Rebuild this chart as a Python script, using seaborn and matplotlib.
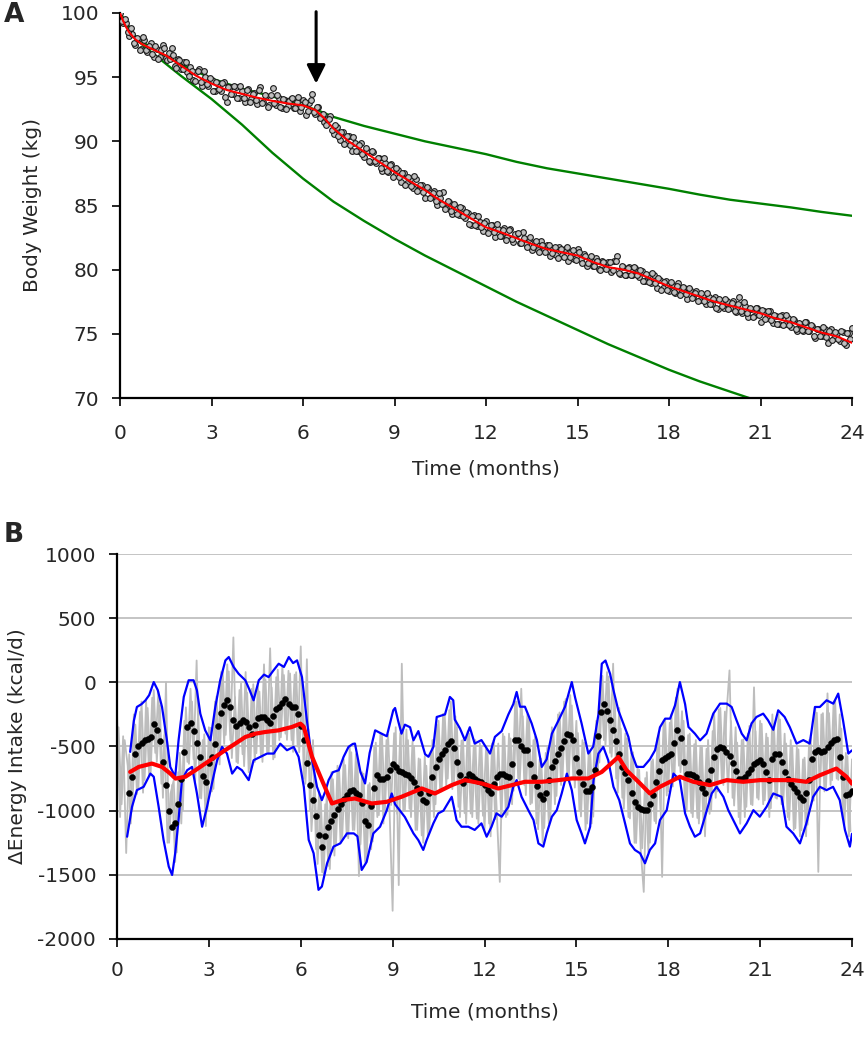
import numpy as np
import pandas as pd
import matplotlib
matplotlib.use("Agg")
import matplotlib.pyplot as plt
import seaborn as sns

# ---------------- Panel A data ----------------
month_ticks = [0, 3, 6, 9, 12, 15, 18, 21, 24]
weight_ticks = [70, 75, 80, 85, 90, 95, 100]

# observed body weight, readings at t = 0.0, 0.1, ... 24.0 months
bw_obs = [
    100.0, 99.2, 99.2, 98.2, 98.4, 97.5, 98.0, 97.2, 97.9, 97.0,
    97.7, 96.6, 97.2, 96.6, 97.5, 96.5, 96.9, 97.3, 95.9, 96.4,
    95.6, 96.2, 95.4, 95.8, 94.8, 95.4, 95.6, 94.3, 95.0, 94.35,
    94.8, 93.9, 94.5, 93.9, 94.6, 93.1, 94.25, 93.7, 94.2, 93.35,
    93.9, 93.05, 94.1, 93.3, 93.75, 92.9, 94.25, 93.1, 93.55, 92.8,
    94.15, 92.8, 93.35, 92.6, 93.2, 92.75, 93.3, 92.6, 93.05, 92.35,
    93.2, 92.05, 93.0, 93.7, 92.1, 92.7, 91.9, 91.5, 91.75, 92.0,
    90.6, 91.1, 90.1, 90.7, 89.9, 90.4, 89.25, 89.9, 89.25, 89.9,
    88.8, 89.25, 88.4, 89.15, 88.3, 88.7, 87.65, 88.3, 87.6, 88.25,
    87.4, 87.75, 86.8, 87.55, 86.75, 87.1, 86.35, 87.1, 86.25, 86.6,
    85.6, 86.35, 85.7, 86.1, 85.05, 85.6, 86.05, 84.8, 85.25, 84.3,
    84.9, 84.25, 84.8, 84.05, 84.4, 83.5, 84.25, 83.4, 83.75, 83.0,
    83.8, 83.0, 83.45, 82.55, 83.2, 82.6, 83.25, 82.55, 83.15, 82.15,
    82.75, 82.1, 82.9, 82.0, 82.4, 81.5, 82.15, 81.55, 82.2, 81.5,
    81.9, 81.05, 81.7, 81.15, 81.8, 81.15, 81.6, 80.65, 81.4, 80.85,
    81.6, 80.8, 81.2, 80.3, 80.9, 80.3, 80.9, 80.05, 80.65, 80.1,
    80.6, 79.85, 80.7, 81.05, 79.7, 80.2, 79.55, 80.2, 79.6, 80.15,
    79.4, 79.9, 79.1, 79.6, 79.0, 79.6, 78.6, 79.2, 78.6, 79.1,
    78.3, 78.8, 78.2, 78.95, 78.2, 78.6, 77.75, 78.45, 77.85, 78.35,
    77.6, 78.0, 77.3, 77.9, 77.35, 77.9, 76.9, 77.55, 77.0, 77.55,
    77.0, 77.55, 76.7, 77.9, 76.65, 77.2, 76.35, 76.95, 76.4, 77.05,
    75.9, 76.8, 76.2, 76.75, 75.85, 76.4, 75.8, 76.45, 75.75, 76.2,
    75.5, 76.1, 75.2, 75.8, 75.25, 75.9, 75.2, 75.6, 74.65, 75.35,
    74.8, 75.35, 74.3, 75.35, 74.7, 75.1, 74.45, 75.15, 74.15, 75.05,
    75.45,
]
# observed body weight, readings at t = 0.05, 0.15, ... 23.95 months
bw_obs_mid = [
    99.4, 99.55, 98.5, 98.85, 97.65, 98.05, 97.15, 98.1, 97.1, 97.4,
    96.8, 97.4, 96.4, 97.1, 97.3, 96.3, 96.4, 96.7, 95.7, 96.3,
    95.6, 96.2, 95.1, 95.5, 94.7, 95.45, 94.65, 95.45, 94.5, 94.9,
    93.95, 94.65, 94.05, 94.55, 93.45, 94.2, 93.65, 94.35, 93.4, 94.35,
    93.4, 94.0, 93.05, 93.7, 93.25, 94.0, 92.95, 93.6, 92.65, 93.6,
    92.95, 93.6, 92.65, 93.3, 92.5, 93.15, 93.4, 92.6, 93.45, 92.65,
    93.1, 92.35, 93.25, 92.3, 92.7, 91.8, 92.1, 91.3, 91.75, 90.85,
    91.3, 90.4, 90.7, 89.8, 90.4, 89.75, 90.3, 89.25, 89.7, 89.0,
    89.45, 88.5, 89.25, 88.5, 88.7, 87.95, 88.7, 87.7, 88.15, 87.2,
    87.95, 87.2, 87.55, 86.6, 87.2, 86.55, 87.3, 86.15, 86.6, 86.05,
    86.45, 85.6, 86.0, 85.35, 86.0, 85.15, 84.7, 85.35, 84.6, 85.15,
    84.35, 84.9, 84.15, 84.5, 83.55, 84.15, 83.5, 84.15, 83.3, 83.65,
    82.85, 83.5, 82.9, 83.55, 82.65, 83.1, 82.3, 83.1, 82.4, 82.8,
    82.85, 82.05, 82.45, 81.75, 82.55, 81.8, 82.2, 81.35, 81.95, 81.35,
    81.95, 81.3, 81.8, 80.9, 81.6, 81.0, 81.8, 81.0, 81.5, 80.75,
    81.35, 80.55, 81.05, 80.55, 81.05, 80.25, 80.7, 80.0, 80.6, 80.05,
    80.6, 79.95, 80.7, 79.75, 80.3, 79.6, 80.15, 79.55, 80.2, 79.55,
    79.95, 79.15, 79.65, 79.05, 79.75, 78.95, 79.35, 78.45, 79.05, 78.45,
    79.05, 78.25, 78.7, 78.05, 78.65, 78.1, 78.6, 77.8, 78.2, 77.55,
    78.15, 77.55, 78.15, 77.3, 77.75, 77.05, 77.7, 77.15, 77.7, 76.95,
    77.4, 76.75, 77.35, 76.8, 77.45, 76.6, 77.0, 76.35, 77.0, 76.45,
    76.85, 76.15, 76.8, 76.1, 76.45, 75.75, 76.4, 75.7, 76.45, 75.7,
    76.15, 75.35, 75.85, 75.3, 75.95, 75.25, 75.65, 74.8, 75.4, 74.85,
    75.5, 74.75, 75.2, 74.55, 75.15, 74.6, 75.2, 74.3, 75.1, 74.6,
]

fit_time = [0, 0.1, 0.2, 0.3, 0.5, 0.7, 1.0, 1.5, 2.0, 2.5, 3.0, 3.5, 4.0, 4.5,
            5.0, 5.5, 6.0, 6.4, 6.7, 7.0, 7.5, 8.0, 8.5, 9.0, 9.5, 10, 10.5, 11,
            11.5, 12, 12.5, 13, 13.5, 14, 14.5, 15, 15.5, 16, 16.5, 17, 17.5, 18,
            18.5, 19, 19.5, 20, 20.5, 21, 21.5, 22, 22.5, 23, 23.5, 24]
fit_weight = [100, 99.4, 98.9, 98.5, 97.95, 97.6, 97.25, 96.7, 95.9, 95.1, 94.5,
              94.0, 93.7, 93.4, 93.15, 92.95, 92.8, 92.45, 91.8, 91.0, 90.0, 89.2,
              88.4, 87.6, 86.9, 86.2, 85.4, 84.7, 84.0, 83.3, 82.9, 82.45, 82.0,
              81.6, 81.35, 81.1, 80.6, 80.2, 80.0, 79.7, 79.2, 78.7, 78.3, 77.9,
              77.5, 77.2, 76.9, 76.6, 76.2, 75.9, 75.5, 75.1, 74.8, 74.3]

upper_green_time = [0, 0.5, 1, 2, 3, 4, 5, 6, 6.5, 7, 8, 9, 10, 11, 12, 13, 14,
                    15, 16, 17, 18, 19, 20, 21, 22, 23, 24]
upper_green_weight = [100, 98.2, 97.3, 96.0, 94.9, 94.1, 93.5, 92.8, 92.4, 91.9,
                      91.2, 90.6, 90.0, 89.5, 89.0, 88.4, 87.9, 87.5, 87.1, 86.7,
                      86.3, 85.85, 85.45, 85.15, 84.85, 84.5, 84.2]

lower_green_time = [0, 0.25, 0.5, 1, 2, 3, 4, 5, 6, 7, 8, 9, 10, 11, 12, 13, 14,
                    15, 16, 17, 18, 19, 20, 21]
lower_green_weight = [100, 98.8, 98.0, 97.0, 95.1, 93.3, 91.3, 89.1, 87.1, 85.3,
                      83.8, 82.4, 81.1, 79.9, 78.7, 77.5, 76.4, 75.3, 74.2, 73.2,
                      72.2, 71.3, 70.5, 69.7]

arrow_month = 6.43

# ---------------- Panel B data ----------------
kcal_ticks = [-2000, -1500, -1000, -500, 0, 500, 1000]

# daily change in intake, readings at t = 0.0, 0.1, ... 24.0
daily_intake = [
    -250, -1050, -420, -1330, -560, -1000, -330, -820, -150, -760,
    -200, -700, -60, -620, -180, -900, 0, -1250, -800, -1400,
    -700, -1100, -300, -620, -50, -600, 170, -900, -450, -1120,
    -350, -850, -150, -600, 80, -480, 140, -450, 350, -620,
    -60, -560, 80, -700, -50, -620, -20, -580, 140, -540,
    265, -600, 40, -450, 130, -400, 90, -450, 60, -500,
    280, -750, 180, -1000, -450, -1300, -850, -1480, -950, -1430,
    -700, -1350, -650, -1250, -600, -1200, -500, -1150, -560, -1510,
    -700, -1400, -800, -1300, -500, -1050, -400, -1100, -450, -1000,
    -1780, -350, -1580, 145, -1000, -450, -1050, -500, -1150, -600,
    -1250, -650, -1150, -450, -950, -300, -850, -250, -750, -150,
    -800, -350, -1050, -450, -1100, -400, -1050, -450, -1100, -500,
    -1150, -550, -1200, -450, -1000, -1555, -400, -1050, -400, -950,
    -150, -750, -50, -800, -250, -950, -450, -1100, -600, -1250,
    -550, -1100, -350, -950, -250, -800, -150, -700, -100, -750,
    -300, -1000, -450, -1150, -550, -1100, -400, -700, 60, -450,
    80, -550, 145, -750, -200, -900, -400, -1050, -550, -1250,
    -650, -1300, -1633, -700, -1250, -600, -1100, -400, -1516, -300,
    -850, -250, -750, -50, -700, -300, -1000, -400, -1050, -450,
    -1100, -500, -1200, -450, -1000, -250, -850, -200, -800, -250,
    93, -900, -350, -1050, -450, -1050, -400, -950, -39, -900,
    -300, -950, -400, -1050, -250, -900, -250, -950, -400, -1050,
    -450, -1150, -500, -1200, -600, -1200, -450, -900, -200, -1477,
    -250, -850, -86, -800, -150, -750, -250, -1050, -550, -1200,
    -600,
]
# daily change in intake, readings at t = 0.05, 0.15, ... 23.95
daily_intake_mid = [
    -350, -950, -450, -650, -1100, -250, -870, -230, -860, -145,
    -730, -120, -550, -70, -790, -410, -1250, -865, -765, -1325,
    -550, -995, -195, -635, -150, -775, -225, -905, -405, -1005,
    -355, -830, -110, -640, 90, -410, 85, -590, -115, -630,
    -8, -653, -80, -675, -15, -552, -72, -620, 20, -555,
    -40, -585, 98, -428, 57, -448, 69, -542, 79, -545,
    -95, -790, -365, -1160, -730, -1415, -885, -1490, -865, -1455,
    -755, -1260, -670, -1230, -645, -1215, -545, -1150, -620, -1262,
    -712, -1395, -785, -1240, -470, -1035, -400, -993, -408, -956,
    -396, -1025, -395, -1005, -368, -985, -462, -1150, -593, -1193,
    -575, -1195, -550, -1050, -330, -830, -245, -805, -217, -832,
    -265, -970, -454, -1019, -382, -1022, -492, -1062, -475, -1040,
    -520, -1100, -475, -1065, -477, -1065, -422, -1032, -437, -845,
    -150, -775, -264, -879, -285, -940, -425, -1145, -595, -1135,
    -510, -1060, -385, -885, -235, -735, -130, -755, -180, -820,
    -395, -1045, -470, -1100, -532, -1047, -300, -625, 50, -495,
    45, -580, -115, -860, -360, -985, -436, -1061, -545, -1252,
    -682, -1293, -746, -1323, -615, -1080, -435, -998, -298, -882,
    -315, -812, -120, -650, -225, -1015, -411, -1018, -482, -1057,
    -497, -1093, -518, -1025, -380, -900, -211, -759, -228, -857,
    -302, -960, -470, -1102, -445, -970, -340, -957, -380, -913,
    -323, -920, -431, -981, -327, -907, -290, -960, -477, -1072,
    -505, -1137, -522, -1152, -587, -1110, -430, -922, -237, -837,
    -240, -820, -240, -762, -145, -760, -360, -1110, -575, -1160,
]

# smoothed intake, readings at t = 0.4, 0.5, ... 24.0
smoothed_intake = [
    -866, -736, -555, -500, -470, -452,
    -440, -425, -322, -374, -460, -620, -800, -1000, -1130, -1100,
    -950, -750, -540, -350, -320, -380, -470, -580, -730, -780,
    -630, -580, -480, -340, -240, -180, -140, -190, -290, -340,
    -320, -296, -310, -350, -400, -330, -275, -270, -270, -290,
    -320, -260, -210, -195, -160, -127, -170, -192, -192, -250,
    -340, -450, -630, -800, -920, -1040, -1190, -1280, -1200, -1130,
    -1080, -1030, -990, -950, -910, -880, -850, -840, -860, -880,
    -944, -1080, -1110, -960, -820, -720, -750, -750, -736, -680,
    -633, -660, -690, -700, -711, -725, -745, -780, -820, -866,
    -920, -930, -860, -740, -660, -600, -560, -530, -480, -455,
    -510, -620, -720, -788, -750, -715, -730, -755, -770, -780,
    -800, -840, -860, -790, -740, -715, -715, -730, -735, -640,
    -450, -450, -500, -529, -529, -640, -740, -810, -880, -910,
    -860, -760, -660, -610, -560, -510, -460, -400, -410, -450,
    -590, -700, -790, -850, -850, -814, -680, -420, -230, -170,
    -220, -290, -370, -460, -560, -660, -710, -762, -860, -930,
    -975, -990, -996, -996, -950, -880, -780, -690, -605, -590,
    -575, -555, -470, -370, -430, -620, -711, -711, -725, -740,
    -775, -820, -866, -770, -680, -580, -520, -503, -515, -540,
    -575, -630, -690, -750, -755, -736, -705, -675, -640, -620,
    -607, -640, -700, -762, -600, -555, -560, -620, -700, -755,
    -790, -820, -855, -890, -915, -860, -760, -600, -545, -530,
    -545, -535, -505, -475, -450, -440, -580, -740, -880, -870,
    -850,
]

upper_time = [0.43, 0.55, 0.65, 0.8, 0.93, 1.05, 1.20, 1.33, 1.47, 1.63, 1.74, 1.90,
              2.01, 2.18, 2.34, 2.50, 2.61, 2.72, 2.88, 3.05, 3.21, 3.37, 3.54, 3.65,
              3.81, 3.97, 4.19, 4.33, 4.46, 4.63, 4.80, 4.95, 5.10, 5.28, 5.45, 5.61,
              5.75, 5.88, 6.04, 6.20, 6.37, 6.53, 6.69, 6.80, 6.91, 7.05, 7.24, 7.40,
              7.56, 7.70, 7.77, 7.95, 8.10, 8.25, 8.43, 8.64, 8.81, 9.02, 9.08, 9.18,
              9.29, 9.40, 9.57, 9.68, 9.84, 10.06, 10.17, 10.33, 10.44, 10.71, 10.87,
              10.98, 11.03, 11.20, 11.36, 11.52, 11.68, 11.90, 12.18, 12.34, 12.56,
              12.78, 12.94, 13.05, 13.16, 13.32, 13.54, 13.71, 13.87, 14.03, 14.20,
              14.41, 14.63, 14.85, 14.96, 15.17, 15.39, 15.55, 15.72, 15.83, 15.95,
              16.10, 16.21, 16.37, 16.53, 16.70, 16.81, 16.97, 17.19, 17.40, 17.57,
              17.73, 17.90, 18.06, 18.22, 18.38, 18.55, 18.66, 18.87, 19.04, 19.25,
              19.47, 19.69, 19.91, 20.07, 20.23, 20.40, 20.56, 20.72, 20.88, 21.10,
              21.26, 21.43, 21.59, 21.80, 21.97, 22.19, 22.41, 22.62, 22.79, 22.95,
              23.17, 23.39, 23.55, 23.71, 23.88, 24.0]
upper_intake = [-542, -300, -192, -170, -140, -100, 2, -60, -192, -452, -659, -736,
                -452, -114, 16, 16, -62, -244, -374, -452, -192, 16, 171, 197,
                119, 67, 16, -60, -140, 16, 60, 41, 90, 145, 120, 197,
                150, 171, 41, -296, -607, -814, -918, -850, -762, -700, -685, -580,
                -503, -480, -477, -700, -788, -550, -374, -400, -420, -218, -200, -300,
                -400, -330, -350, -452, -380, -560, -580, -503, -270, -250, -114,
                -140, -290, -360, -451, -350, -477, -450, -555, -425, -380,
                -250, -170, -75, -190, -190, -320, -450, -659, -600, -400,
                -300, -190, 2, -120, -320, -555, -500, -250, 145, 170,
                67, -60, -218, -320, -426, -555, -659, -659, -600, -529,
                -350, -283, -283, -180, 2, -170, -348, -400, -452, -400,
                -244, -166, -166, -192, -296, -400, -452, -320, -270, -244,
                -296, -370, -218, -270, -350, -477, -450, -477, -192, -192,
                -140, -166, -88, -300, -555, -530]

lower_time = [0.33, 0.49, 0.65, 0.87, 1.09, 1.20, 1.36, 1.52, 1.69, 1.80, 1.90, 2.01,
              2.12, 2.29, 2.45, 2.61, 2.78, 2.94, 3.10, 3.27, 3.43, 3.59, 3.76, 3.92,
              4.08, 4.30, 4.46, 4.68, 4.90, 5.12, 5.33, 5.55, 5.77, 5.93, 6.10, 6.26,
              6.42, 6.58, 6.69, 6.86, 7.07, 7.29, 7.51, 7.73, 7.85, 7.99, 8.15, 8.37,
              8.59, 8.81, 8.97, 9.08, 9.40, 9.68, 9.84, 10.0, 10.11, 10.33, 10.49,
              10.66, 10.93, 11.09, 11.25, 11.47, 11.68, 11.90, 12.07, 12.23, 12.39,
              12.56, 12.78, 12.94, 13.05, 13.21, 13.43, 13.60, 13.76, 13.92, 14.03,
              14.20, 14.36, 14.52, 14.69, 14.85, 15.01, 15.17, 15.28, 15.45, 15.56,
              15.72, 15.88, 16.04, 16.21, 16.40, 16.59, 16.75, 16.91, 17.08, 17.24,
              17.40, 17.57, 17.73, 17.95, 18.17, 18.38, 18.55, 18.71, 18.87, 19.04,
              19.20, 19.42, 19.58, 19.80, 19.96, 20.12, 20.34, 20.56, 20.78, 20.99,
              21.21, 21.43, 21.70, 21.86, 22.08, 22.30, 22.51, 22.73, 22.95, 23.17,
              23.38, 23.60, 23.77, 23.93, 24.0]
lower_intake = [-1203, -970, -840, -814, -711, -736, -970, -1228, -1436, -1501, -1332, -1073,
                -762, -685, -659, -866, -1125, -970, -788, -607, -503, -555, -711, -659,
                -685, -762, -607, -581, -555, -555, -478, -529, -503, -581, -814, -1228,
                -1332, -1617, -1591, -1410, -1280, -1255, -1177, -1177, -1200, -1462, -1400, -1177,
                -1125, -996, -866, -950, -1050, -1177, -1230, -1306, -1230, -1099, -1021,
                -1000, -892, -1075, -1125, -1125, -1150, -1099, -1203, -1125, -1021,
                -1047, -970, -814, -762, -892, -996, -1073, -1255, -1280, -1177,
                -1047, -996, -866, -711, -840, -1073, -1177, -1255, -1125, -762,
                -555, -503, -607, -814, -918, -1099, -1255, -1306, -1332, -1410,
                -1306, -1255, -1073, -996, -711, -762, -1021, -1125, -1203, -1177,
                -1047, -866, -814, -892, -996, -1073, -1177, -1099, -996, -1047,
                -970, -866, -892, -1125, -1177, -1255, -1099, -892, -814, -840,
                -814, -918, -1151, -1280, -1180]

trend_time = [0.43, 0.71, 1.14, 1.47, 1.74, 1.91, 2.23, 2.56, 2.88, 3.21, 3.53, 3.86,
              4.19, 4.52, 4.84, 5.28, 5.71, 5.99, 6.10, 6.37, 6.69, 7.02, 7.35, 7.77,
              8.32, 8.81, 9.29, 9.95, 10.38, 10.93, 11.36, 11.91, 12.45, 12.89, 13.32,
              13.87, 14.41, 14.85, 15.39, 15.83, 16.1, 16.37, 16.64, 17.08, 17.40,
              17.73, 18.06, 18.38, 18.82, 19.36, 19.91, 20.45, 20.99, 21.54, 22.08,
              22.51, 22.95, 23.49, 23.82, 24.0]
trend_intake = [-698, -659, -633, -659, -711, -750, -736, -685, -633, -581, -529, -478,
                -426, -400, -387, -374, -348, -322, -348, -581, -762, -944, -918, -905,
                -944, -931, -892, -827, -866, -801, -762, -788, -827, -801, -775,
                -775, -762, -749, -749, -698, -640, -581, -685, -788, -866,
                -814, -775, -736, -775, -801, -762, -775, -762, -762, -762,
                -775, -724, -672, -736, -790]

# ---------------- tables ----------------
bw_df = pd.DataFrame({
    "time": np.concatenate([np.arange(len(bw_obs)) / 10.0,
                            (np.arange(len(bw_obs_mid)) + 0.5) / 10.0]),
    "weight": bw_obs + bw_obs_mid,
})
daily_df = pd.DataFrame({
    "time": np.concatenate([np.arange(len(daily_intake)) / 10.0,
                            (np.arange(len(daily_intake_mid)) + 0.5) / 10.0]),
    "kcal": daily_intake + daily_intake_mid,
    "phase": ["a"] * len(daily_intake) + ["b"] * len(daily_intake_mid),
})
smooth_df = pd.DataFrame({
    "time": (np.arange(len(smoothed_intake)) + 4) / 10.0,
    "kcal": smoothed_intake,
})

# ---------------- Figure ----------------
sns.set_style("ticks")
plt.rcParams["font.family"] = ["DejaVu Sans"]
plt.rcParams["axes.unicode_minus"] = False

W, H = 867, 1050
fig = plt.figure(figsize=(W / 100, H / 100), dpi=100)

FS = 14.5
tick_kw = dict(labelsize=FS, length=6, width=1.2, color="black", direction="out")

# ----- Panel A -----
axA = fig.add_axes([120 / W, 1 - 398 / H, 732 / W, 385 / H])
sns.lineplot(x=upper_green_time, y=upper_green_weight, ax=axA, color="#008000",
             lw=1.7, estimator=None, sort=False, zorder=2)
sns.lineplot(x=lower_green_time, y=lower_green_weight, ax=axA, color="#008000",
             lw=1.7, estimator=None, sort=False, zorder=2)
sns.scatterplot(data=bw_df, x="time", y="weight", ax=axA, s=17, color="#c0c0c0",
                edgecolor="#1a1a1a", linewidth=0.8, zorder=3)
sns.lineplot(x=fit_time, y=fit_weight, ax=axA, color="#ff0000", lw=1.5,
             estimator=None, sort=False, zorder=4)
axA.annotate("", xy=(arrow_month, 94.5), xytext=(arrow_month, 100.1),
             arrowprops=dict(arrowstyle="-|>", color="black", lw=2.2,
                             mutation_scale=28, shrinkA=0, shrinkB=0),
             annotation_clip=False, zorder=6)
axA.set_xlim(0, 24)
axA.set_ylim(70, 100)
axA.set_xticks(month_ticks)
axA.set_yticks(weight_ticks)
axA.tick_params(axis="x", pad=13, **tick_kw)
axA.tick_params(axis="y", pad=9, **tick_kw)
for side in ["top", "right"]:
    axA.spines[side].set_visible(False)
for side in ["left", "bottom"]:
    axA.spines[side].set_linewidth(1.6)
    axA.spines[side].set_color("black")
axA.set_xlabel("Time (months)", fontsize=FS)
axA.set_ylabel("Body Weight (kg)", fontsize=FS)
axA.xaxis.set_label_coords(0.5, -0.16)
axA.yaxis.set_label_coords(-0.107, 0.5)

# ----- Panel B -----
axB = fig.add_axes([117 / W, 1 - 939 / H, 735 / W, 385 / H])
axB.set_axisbelow(True)
axB.yaxis.grid(True, color="#c4c4c4", lw=1.4)
sns.lineplot(data=daily_df, x="time", y="kcal", units="phase", ax=axB,
             color="#bdbdbd", lw=1.3, estimator=None, zorder=2)
sns.lineplot(x=upper_time, y=upper_intake, ax=axB, color="#0000ff", lw=1.6,
             estimator=None, sort=False, zorder=3)
sns.lineplot(x=lower_time, y=lower_intake, ax=axB, color="#0000ff", lw=1.6,
             estimator=None, sort=False, zorder=3)
sns.scatterplot(data=smooth_df, x="time", y="kcal", ax=axB, s=19, color="black",
                edgecolor="black", linewidth=0.3, zorder=4)
sns.lineplot(x=trend_time, y=trend_intake, ax=axB, color="#ff0000", lw=3.0,
             estimator=None, sort=False, zorder=5)
axB.set_xlim(0, 24)
axB.set_ylim(-2000, 1000)
axB.set_xticks(month_ticks)
axB.set_yticks(kcal_ticks)
axB.tick_params(axis="x", pad=10, **tick_kw)
axB.tick_params(axis="y", pad=9, **tick_kw)
for side in ["top", "right"]:
    axB.spines[side].set_visible(False)
for side in ["left", "bottom"]:
    axB.spines[side].set_linewidth(1.6)
    axB.spines[side].set_color("black")
axB.set_xlabel("Time (months)", fontsize=FS)
axB.set_ylabel("\u0394Energy Intake (kcal/d)", fontsize=FS)
axB.xaxis.set_label_coords(0.5, -0.165)
axB.yaxis.set_label_coords(-0.122, 0.5)

fig.text(0.004, 0.998, "A", fontsize=19, fontweight="bold", va="top", ha="left")
fig.text(0.004, 0.503, "B", fontsize=19, fontweight="bold", va="top", ha="left")

fig.savefig("out.png", dpi=100)
